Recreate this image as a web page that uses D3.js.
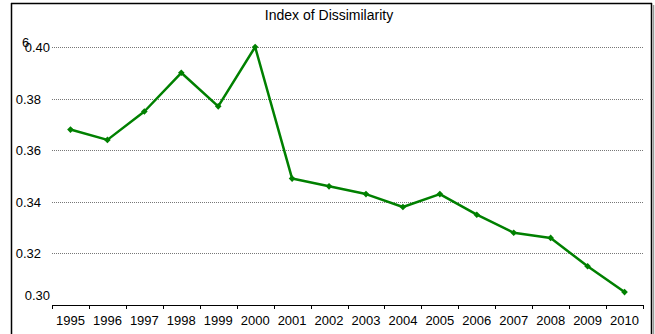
<!DOCTYPE html>
<html><head><meta charset="utf-8">
<script src="https://cdn.jsdelivr.net/npm/d3@7"></script>
<style>body{margin:0;background:#fff}svg{display:block;font-family:"Liberation Sans",Arial,sans-serif}</style>
</head><body><svg id="c" width="655" height="334"></svg>
<script>
const years = ["1995","1996","1997","1998","1999","2000","2001","2002","2003","2004","2005","2006","2007","2008","2009","2010"];
const values = [0.368,0.364,0.375,0.390,0.377,0.400,0.349,0.346,0.343,0.338,0.343,0.335,0.328,0.326,0.315,0.305];
const yTicks = [0.30,0.32,0.34,0.36,0.38,0.40];
const title = "Index of Dissimilarity";

const svg = d3.select("#c");
const L = 52, R = 643, T = 47, B = 305;
const x = d3.scaleBand().domain(years).range([L, R]);
const y = d3.scaleLinear().domain([0.30, 0.40]).range([B, T]);
const FS = 13;

// outer frame
svg.append("line").attr("x1", 11.5).attr("x2", 11.5).attr("y1", 3).attr("y2", 334).attr("stroke", "#000").attr("stroke-width", 1.5);
svg.append("line").attr("x1", 11).attr("x2", 652).attr("y1", 3.5).attr("y2", 3.5).attr("stroke", "#000").attr("stroke-width", 1.5);
svg.append("line").attr("x1", 651.5).attr("x2", 651.5).attr("y1", 3).attr("y2", 334).attr("stroke", "#000").attr("stroke-width", 1.5);
svg.append("line").attr("x1", 653.5).attr("x2", 653.5).attr("y1", 5).attr("y2", 334).attr("stroke", "#999").attr("stroke-width", 1.5);

// title
svg.append("text").attr("x", 329).attr("y", 20).attr("text-anchor", "middle")
  .attr("font-size", 14).attr("fill", "#000").text(title);

// gridlines
svg.append("g").selectAll("line").data(yTicks.filter(d => d > 0.30)).join("line")
  .attr("x1", L).attr("x2", R).attr("y1", d => Math.round(y(d)) + 0.5).attr("y2", d => Math.round(y(d)) + 0.5)
  .attr("stroke", "#777").attr("stroke-width", 1).attr("stroke-dasharray", "1,1");

// y labels
svg.append("g").selectAll("text").data(yTicks).join("text")
  .attr("x", d => (d === 0.30 || d === 0.40) ? 50 : 41)
  .attr("y", d => y(d) + 5 - ((d === 0.30) ? 10 : 0))
  .attr("text-anchor", "end").attr("font-size", FS).attr("fill", "#000")
  .text(d => d3.format(".2f")(d));
svg.append("text").attr("x", 22).attr("y", 47).attr("font-size", FS).attr("fill", "#000").text("6");

// x axis
const xAxis = d3.axisBottom(x).tickSize(0).tickPadding(11);
const gx = svg.append("g").attr("transform", `translate(0,${B})`).call(xAxis);
gx.select(".domain").attr("stroke", "#000").attr("stroke-width", 1.2);
gx.selectAll("text").attr("font-size", FS).attr("fill", "#000").attr("font-family", "Liberation Sans, Arial, sans-serif");
const bounds = years.map(d => x(d)).concat([R]);
svg.append("g").selectAll("line").data(bounds).join("line")
  .attr("x1", d => Math.round(d) + 0.5).attr("x2", d => Math.round(d) + 0.5)
  .attr("y1", B).attr("y2", B + 4).attr("stroke", "#000");

// line
const cx = d => x(d) + x.bandwidth() / 2;
svg.append("path").datum(years.map((d, i) => [d, values[i]]))
  .attr("fill", "none").attr("stroke", "#008000").attr("stroke-width", 2.5)
  .attr("stroke-linejoin", "round")
  .attr("d", d3.line().x(d => cx(d[0])).y(d => y(d[1])));
svg.append("g").selectAll("path").data(years.map((d, i) => [d, values[i]])).join("path")
  .attr("transform", d => `translate(${cx(d[0])},${y(d[1])}) rotate(45)`)
  .attr("d", d3.symbol(d3.symbolSquare, 22))
  .attr("fill", "#008000");
</script></body></html>
